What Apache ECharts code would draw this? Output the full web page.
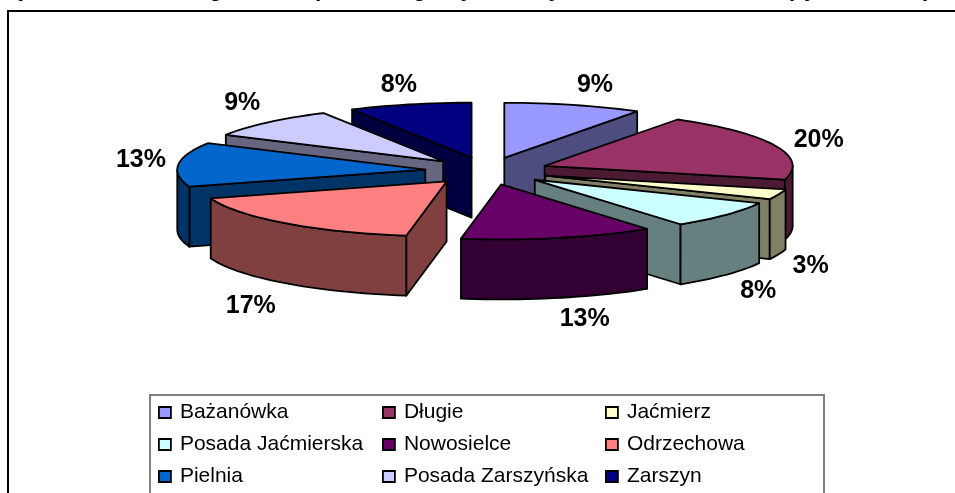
<!DOCTYPE html>
<html><head><meta charset="utf-8">
<style>html,body{margin:0;padding:0;background:#fff}#c{width:955px;height:493px}</style>
<script src="https://cdn.jsdelivr.net/npm/echarts@6/dist/echarts.min.js"></script>
</head><body><div id="c"></div>
<script>
const categories = ['Bażanówka','Długie','Jaćmierz','Posada Jaćmierska','Nowosielce','Odrzechowa','Pielnia','Posada Zarszyńska','Zarszyn'];
const shares = [9, 20, 3, 8, 12.6, 17.4, 13, 9, 8];
const colors = ['#9999FF','#993366','#FFFFCC','#CCFFFF','#660066','#FF8080','#0066CC','#CCCCFF','#000080'];
const shades = ['#4D4D80','#4D1A33','#808066','#668080','#330033','#804040','#003366','#666680','#000040'];
// painter's order, back to front
const drawOrder = ['Zarszyn','Bażanówka','Długie','Jaćmierz','Posada Jaćmierska','Posada Zarszyńska','Pielnia','Odrzechowa','Nowosielce'];
const legendColumns = [
  ['Bażanówka','Posada Jaćmierska','Pielnia'],
  ['Długie','Nowosielce','Posada Zarszyńska'],
  ['Jaćmierz','Odrzechowa','Zarszyn']
];
const titleRemnants = [['y',24],['g',216],['p',322],['g',420],['y',467],['y',555],['(',790],['j',809],['(',923]];
const labelNudgeX = [9, 2, -10, -2, 16, -5, 7, 6, 0];
const labelNudgeY = [1, 3, 4, 2, 0, 6, -2, -4, 2];

const PIE = {cx:487, cy:171, rx:248, ry:55, depth:60, explode:0.25, labelX:1.43, labelY:1.65};
const total = shares.reduce((a,b)=>a+b,0);
const RAD = Math.PI/180;
function ray(t){return [Math.sin(t*RAD)*PIE.rx, -Math.cos(t*RAD)*PIE.ry];}

function renderSlice(i){
  return function(params, api){
    const before = shares.slice(0,i).reduce((a,b)=>a+b,0);
    const a0 = before/total*360;
    const a1 = a0 + api.value(0)/total*360;
    const mid = (a0+a1)/2;
    const m = ray(mid);
    const ox = PIE.cx + m[0]*PIE.explode, oy = PIE.cy + m[1]*PIE.explode;
    const pt = (t,dz)=>{const r=ray(t);return [ox+r[0], oy+r[1]+(dz||0)];};
    const line = {stroke:'#000', lineWidth:1.8, lineJoin:'round'};
    const shade = shades[i], fill = colors[i];
    const kids = [];
    const face = (t)=>{
      const p = pt(t);
      kids.push({type:'polygon',shape:{points:[[ox,oy],p,[p[0],p[1]+PIE.depth],[ox,oy+PIE.depth]]},style:Object.assign({fill:shade},line)});
    };
    if (Math.sin(a0*RAD) < -1e-6) face(a0);
    if (Math.sin(a1*RAD) > 1e-6) face(a1);
    const w0 = Math.max(a0,90), w1 = Math.min(a1,270);
    if (w1 > w0){
      const top=[], bot=[];
      for(let t=w0;;t+=2){const q=Math.min(t,w1);top.push(pt(q));bot.unshift(pt(q,PIE.depth));if(q>=w1)break;}
      kids.push({type:'polygon',shape:{points:top.concat(bot)},style:Object.assign({fill:shade},line)});
    }
    const surf=[[ox,oy]];
    for(let t=a0;;t+=2){const q=Math.min(t,a1);surf.push(pt(q));if(q>=a1)break;}
    kids.push({type:'polygon',shape:{points:surf},style:Object.assign({fill:fill},line)});
    const c = Math.cos(mid*RAD);
    kids.push({type:'text',z2:100,style:{
      text:Math.round(api.value(0))+'%',
      x:PIE.cx+m[0]*PIE.labelX+labelNudgeX[i],
      y:PIE.cy+m[1]*PIE.labelY+(c<0?PIE.depth:0)+labelNudgeY[i],
      align:'center',verticalAlign:'middle',fill:'#000',
      font:'bold 25px "Liberation Sans", Arial, sans-serif'}});
    return {type:'group',children:kids};
  };
}

const series = categories.map((name,i)=>({
  type:'custom',name:name,coordinateSystem:'none',silent:true,animation:false,
  z:2+drawOrder.indexOf(name),
  itemStyle:{color:colors[i]},
  data:[shares[i]],
  renderItem:renderSlice(i)
}));

const legendX=[158,382,605];
const legend = legendColumns.map((col,k)=>({
  orient:'vertical',left:legendX[k],top:402,data:col,selectedMode:false,
  icon:'rect',itemWidth:12,itemHeight:11,itemGap:11,
  itemStyle:{borderColor:'#000',borderWidth:1.8},
  textStyle:{fontFamily:'"Liberation Sans", Arial, sans-serif',fontSize:21,lineHeight:20,color:'#000',padding:[0,0,0,4]},
  padding:0
}));

const graphic = [
  {type:'polyline',silent:true,shape:{points:[[8,493],[8,11],[955,11]]},style:{stroke:'#000',lineWidth:2,fill:null}},
  {type:'polyline',silent:true,shape:{points:[[150,493],[150,395],[824,395],[824,493]]},style:{stroke:'#808080',lineWidth:2,fill:null}}
].concat(titleRemnants.map(r=>({type:'text',silent:true,style:{text:r[0],x:r[1],y:-22,align:'center',fill:'#000',font:'bold 23px "Liberation Sans", Arial, sans-serif'}})));

const chart = echarts.init(document.getElementById('c'),null,{renderer:'canvas'});
chart.setOption({animation:false,backgroundColor:'#fff',legend:legend,graphic:graphic,series:series});
</script></body></html>
